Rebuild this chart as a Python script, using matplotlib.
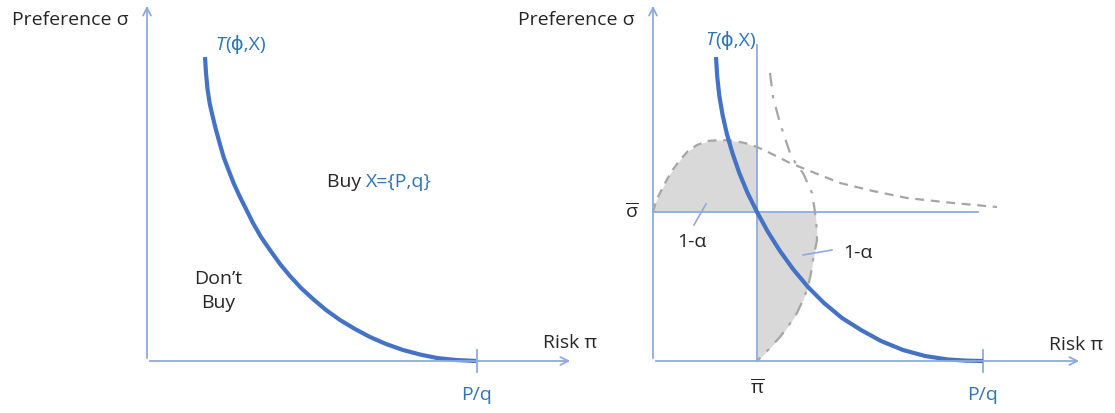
import matplotlib.pyplot as plt

plt.rcParams['font.family'] = ['Open Sans', 'DejaVu Sans']
plt.rcParams['mathtext.fontset'] = 'custom'
plt.rcParams['mathtext.rm'] = 'Open Sans'
plt.rcParams['mathtext.it'] = 'Open Sans:italic'

# Curva T(phi, X), unidades de pixel medidas desde el origen de cada panel
t1_x = [58, 59, 60.6, 62.8, 65.8, 69, 72.6, 76.6, 81.5, 87, 93, 99.5, 106, 114, 123,
        133, 143, 154, 166, 179, 193, 208, 223, 239, 256, 273, 290, 309, 329]
t1_y = [304, 288, 271, 257, 244, 231, 218, 204, 191, 177, 164, 151, 138, 124, 111,
        97, 85, 73, 62, 51, 41, 32, 24, 17, 11, 6.5, 3, 1, 0]
t2_x = [63, 64.2, 66.3, 69.6, 74, 79.7, 86.4, 94.4, 104, 115, 127, 140, 155, 171,
        189, 208, 228, 250, 272, 295, 313, 330]
t2_y = [304, 284.6, 265.3, 245.9, 226.5, 207.1, 187.8, 168.4, 149, 129, 110, 92, 74, 58,
        43, 31, 20, 11, 5, 1.5, 0.4, 0]

# Valores de referencia (panel derecho)
pi_bar = 104
sigma_bar = 149
p_q = 330

# Curva discontinua (distribución de sigma)
sig_x = [0, 3, 10, 18, 27, 35, 44, 55, 67, 77, 87, 96, 104, 115, 127, 137, 147,
         167, 187, 220, 254, 300, 344]
sig_y = [149, 160, 174, 189, 201, 210, 216, 220, 221, 220.5, 219, 217, 214, 209, 203,
         198, 194, 186, 178, 170, 163, 158, 154]

# Curva punto-raya (distribución de pi)
pi_x = [117, 120, 127, 137, 143, 150, 159, 162, 163.5, 164, 160, 158, 155, 150, 144,
        136, 127, 116, 104]
pi_y = [288, 264, 238, 208, 197, 188, 168, 149, 135, 121, 101, 88, 74, 61, 48,
        36, 24, 12, 0]

axis_col = '#8faadc'
curve_col = '#4472c4'
text_blue = '#2e75b6'
text_col = '#262626'
gray = '#a6a6a6'

fig = plt.figure(figsize=(11.15, 4.13), dpi=100)
ax1 = fig.add_axes([0, 0, 1, 1])
ax2 = fig.add_axes([0, 0, 1, 1])
ax1.set_xlim(-147, 1115 - 147)
ax2.set_xlim(-653, 1115 - 653)
for ax in (ax1, ax2):
    ax.set_ylim(-52, 361)
    ax.axis('off')
    ax.patch.set_alpha(0)

fs = 14


def ejes(ax, x_fin):
    flecha = dict(arrowstyle='->', color=axis_col, lw=1.3, mutation_scale=14)
    ax.annotate('', xy=(0, 358), xytext=(0, 0), arrowprops=flecha)
    ax.annotate('', xy=(x_fin, 0), xytext=(0, 0), arrowprops=flecha)
    ax.plot([p_q, p_q], [-11, 11], color=axis_col, lw=1.3)
    ax.text(-18, 341, 'Preference σ', fontsize=fs, ha='right', va='center', color=text_col)
    ax.text(p_q, -34, 'P/q', fontsize=fs, ha='center', va='center', color=text_blue)


def etiqueta_t(ax, x, y):
    t = ax.text(x, y, 'T', fontsize=fs, style='italic', ha='left', va='center', color=text_blue)
    ax.annotate('(ϕ,X)', xy=(1, 0.5), xycoords=t, fontsize=fs, ha='left', va='center',
                color=text_blue)


# Panel izquierdo
ejes(ax1, 426)
ax1.plot(t1_x, t1_y, color=curve_col, lw=3, solid_capstyle='butt', solid_joinstyle='round')
ax1.text(396, 18, 'Risk π', fontsize=fs, ha='left', va='center', color=text_col)
etiqueta_t(ax1, 68, 316)
b = ax1.text(180, 179, 'Buy ', fontsize=fs, ha='left', va='center', color=text_col)
ax1.annotate('X={P,q}', xy=(1, 0.5), xycoords=b, fontsize=fs, ha='left', va='center',
             color=text_blue)
ax1.text(71, 70, 'Don’t\nBuy', fontsize=fs, ha='center', va='center', linespacing=1.45,
         color=text_col)

# Panel derecho
ejes(ax2, 429)
# zonas sombreadas
sx = [x for x in sig_x if x <= pi_bar]
sy = sig_y[:len(sx)]
ax2.fill_between(sx, sy, sigma_bar, color='#d9d9d9', lw=0)
py = [y for y in pi_y if y <= sigma_bar]
px = pi_x[len(pi_y) - len(py):]
ax2.fill_betweenx(py, pi_bar, px, color='#d9d9d9', lw=0)

ax2.plot([pi_bar, pi_bar], [0, 316], color=axis_col, lw=1.3)
ax2.plot([0, 325], [sigma_bar, sigma_bar], color=axis_col, lw=1.3)
ax2.plot(sig_x, sig_y, color=gray, lw=1.6, dashes=(4, 3))
ax2.plot(pi_x, pi_y, color=gray, lw=1.6, dashes=(6, 4, 1.5, 4))
ax2.plot(t2_x, t2_y, color=curve_col, lw=3, solid_capstyle='butt', solid_joinstyle='round')

ax2.text(396, 16, 'Risk π', fontsize=fs, ha='left', va='center', color=text_col)
etiqueta_t(ax2, 52, 321)
ax2.text(-21, 149, r'$\overline{\mathrm{σ}}$', fontsize=fs, ha='center', va='center',
         color=text_col)
ax2.text(pi_bar, -27, r'$\overline{\mathrm{π}}$', fontsize=fs, ha='center', va='center',
         color=text_col)

ax2.plot([41, 53], [136, 157], color=axis_col, lw=1.2)
ax2.text(39, 119, '1-α', fontsize=fs, ha='center', va='center', color=text_col)
ax2.plot([150, 179], [106, 111], color=axis_col, lw=1.2)
ax2.text(205, 108, '1-α', fontsize=fs, ha='center', va='center', color=text_col)

plt.savefig('out.png', dpi=100)
